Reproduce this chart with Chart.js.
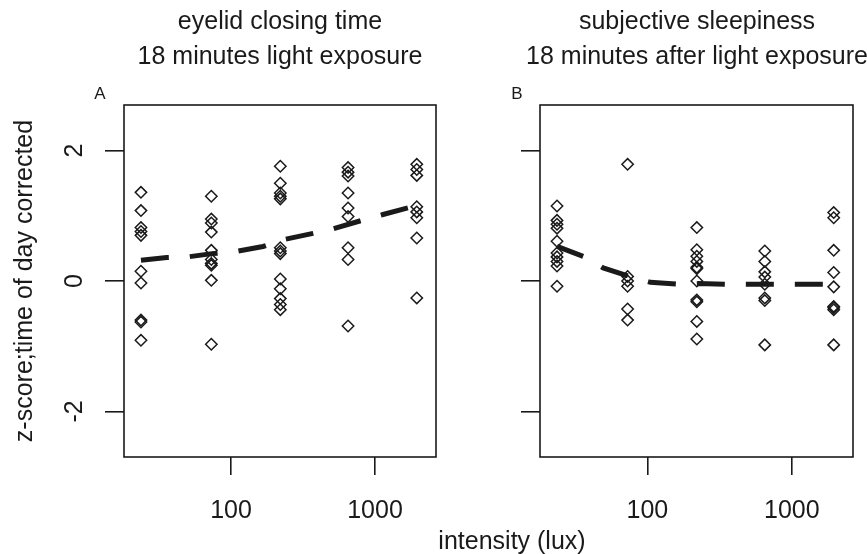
<!DOCTYPE html>
<html>
<head>
<meta charset="utf-8">
<script src="https://cdn.jsdelivr.net/npm/chart.js@4.4.1/dist/chart.umd.min.js"></script>
<style>
html, body { margin: 0; padding: 0; background: #fff; overflow: hidden; width: 867px; height: 554px; }
.panel { position: absolute; top: 0; height: 554px; }
#xlab { position: absolute; left: 412px; width: 200px; top: 525px; text-align: center;
        font: 25px "Liberation Sans", Arial, sans-serif; color: #1a1a1a; line-height: 30px; }
</style>
</head>
<body>
<div class="panel" style="left:0;width:560px"><canvas id="cA" width="560" height="554"></canvas></div>
<div class="panel" style="left:430px;width:534px"><canvas id="cB" width="534" height="554"></canvas></div>
<div id="xlab">intensity (lux)</div>
<script>
// ---------- data ----------
const intensityLux = [23.7, 73, 220, 650, 1950];

const eyelidZ = [
  [1.36, 1.08, 0.82, 0.76, 0.70, 0.15, -0.03, -0.60, -0.63, -0.91],
  [1.30, 0.95, 0.89, 0.75, 0.47, 0.33, 0.27, 0.24, 0.01, -0.97],
  [1.76, 1.50, 1.35, 1.30, 1.26, 0.51, 0.46, 0.42, 0.03, -0.12, -0.27, -0.36, -0.44],
  [1.74, 1.67, 1.61, 1.35, 1.12, 0.99, 0.51, 0.33, -0.69],
  [1.79, 1.71, 1.62, 1.14, 1.06, 0.97, 0.66, -0.26]
];
const sleepinessZ = [
  [1.15, 0.93, 0.87, 0.81, 0.61, 0.43, 0.37, 0.30, 0.23, -0.08],
  [1.79, 0.07, 0.00, -0.08, -0.43, -0.60],
  [0.82, 0.48, 0.38, 0.30, 0.21, 0.19, 0.00, -0.29, -0.32, -0.62, -0.89],
  [0.46, 0.30, 0.14, 0.06, -0.05, -0.26, -0.30, -0.98],
  [1.05, 0.97, 0.47, 0.13, -0.09, -0.39, -0.41, -0.44, -0.98]
];

const eyelidFitLux = [23.7, 35.8, 50.3, 73.8, 106.6, 166.8, 237, 371, 511, 811, 1137, 1950];
const eyelidFitZ   = [0.32, 0.36, 0.37, 0.42, 0.45, 0.53, 0.64, 0.73, 0.80, 0.93, 1.02, 1.16];
const sleepFitLux  = [23.7, 37.6, 49.5, 80.3, 104.9, 164, 226, 365, 493, 800, 1099, 1950];
const sleepFitZ    = [0.53, 0.36, 0.20, 0.05, -0.02, -0.05, -0.04, -0.05, -0.05, -0.05, -0.05, -0.05];

const xTickValues = [100, 1000];
const xTickLabels = ['100', '1000'];
const yTickValues = [-2, 0, 2];
const yTickLabels = ['-2', '0', '2'];
const xRange = [18.07, 2652];
const yRange = [-2.7, 2.7];

const titleA = ['eyelid closing time', '18 minutes light exposure'];
const titleB = ['subjective sleepiness', '18 minutes after light exposure'];
const yTitle = 'z-score;time of day corrected';

// ---------- drawing ----------
const INK = '#1a1a1a';
const FAM = '"Liberation Sans", Arial, sans-serif';
Chart.defaults.font.family = FAM;
Chart.defaults.color = INK;

const decor = {
  id: 'decor',
  afterDraw(chart, args, o) {
    const { ctx, chartArea: a } = chart;
    ctx.save();
    ctx.strokeStyle = INK;
    ctx.lineWidth = 1.6;
    ctx.strokeRect(a.left, a.top, a.right - a.left, a.bottom - a.top);
    ctx.fillStyle = INK;
    ctx.textAlign = 'center';
    ctx.textBaseline = 'middle';
    ctx.font = '17px ' + FAM;
    ctx.fillText(o.tag, a.left - o.tagDx, a.top - 11);
    if (o.showY) {
      const ys = chart.scales.y;
      ctx.font = '25px ' + FAM;
      yTickValues.forEach((v, i) => {
        const py = ys.getPixelForValue(v);
        ctx.save();
        ctx.translate(a.left - o.labelDx, py);
        ctx.rotate(-Math.PI / 2);
        ctx.fillText(yTickLabels[i], 0, 0);
        ctx.restore();
      });
    }
    ctx.restore();
  }
};

function toPoints(cols) {
  const pts = [];
  cols.forEach((vals, i) => vals.forEach(v => pts.push({ x: intensityLux[i], y: v })));
  return pts;
}

function panel(id, o) {
  return new Chart(document.getElementById(id), {
    type: 'scatter',
    data: {
      datasets: [
        {
          label: 'fit',
          data: o.fitLux.map((x, i) => ({ x: x, y: o.fitZ[i] })),
          showLine: true, borderColor: INK, backgroundColor: INK,
          borderWidth: 5, borderDash: [28, 21], borderCapStyle: 'butt',
          pointRadius: 0, pointHoverRadius: 0, fill: false, tension: 0, order: 0
        },
        {
          label: 'subjects',
          data: toPoints(o.cols),
          showLine: false, pointStyle: 'rectRot', pointRadius: 5.7, pointHoverRadius: 5.7,
          borderColor: INK, pointBorderColor: INK, pointBorderWidth: 1.5,
          backgroundColor: 'rgba(0,0,0,0)', pointBackgroundColor: 'rgba(0,0,0,0)', order: 1
        }
      ]
    },
    options: {
      responsive: false,
      animation: false,
      events: [],
      layout: { padding: 0 },
      plugins: {
        legend: { display: false },
        tooltip: { enabled: false },
        title: {
          display: true, text: o.title, color: INK,
          font: { size: 25, weight: 'normal', lineHeight: 1.4 },
          padding: { top: 4.5, bottom: 30.5 }
        },
        decor: { tag: o.tag, tagDx: o.tagDx, showY: o.showY, labelDx: 48.5 }
      },
      scales: {
        x: {
          type: 'logarithmic', position: 'bottom', min: xRange[0], max: xRange[1],
          afterBuildTicks: s => { s.ticks = xTickValues.map(v => ({ value: v })); },
          afterFit: s => { s.height = 97; },
          grid: { display: true, drawOnChartArea: false, drawTicks: true, tickLength: 18,
                  color: INK, tickColor: INK, lineWidth: 1.6 },
          border: { display: false },
          ticks: { autoSkip: false, maxRotation: 0, minRotation: 0, padding: 21, color: INK,
                   font: { size: 25 },
                   callback: v => { const k = xTickValues.indexOf(v); return k >= 0 ? xTickLabels[k] : ''; } }
        },
        y: {
          type: 'linear', position: 'left', min: yRange[0], max: yRange[1],
          afterBuildTicks: s => { s.ticks = yTickValues.map(v => ({ value: v })); },
          afterFit: s => { s.width = o.leftW; },
          grid: { display: true, drawOnChartArea: false, drawTicks: true, tickLength: 19,
                  color: INK, tickColor: INK, lineWidth: 1.6 },
          border: { display: false },
          ticks: { display: false },
          title: { display: o.showY, text: yTitle, color: INK, font: { size: 25 },
                   padding: { top: 10, bottom: 0 } }
        },
        yR: {
          type: 'linear', position: 'right', min: yRange[0], max: yRange[1],
          afterFit: s => { s.width = o.rightW; },
          grid: { display: false }, border: { display: false }, ticks: { display: false }
        }
      }
    },
    plugins: [decor]
  });
}

panel('cA', { cols: eyelidZ, fitLux: eyelidFitLux, fitZ: eyelidFitZ, title: titleA,
              tag: 'A', tagDx: 24, showY: true, leftW: 124, rightW: 124 });
panel('cB', { cols: sleepinessZ, fitLux: sleepFitLux, fitZ: sleepFitZ, title: titleB,
              tag: 'B', tagDx: 23, showY: false, leftW: 110, rightW: 111 });
</script>
</body>
</html>
